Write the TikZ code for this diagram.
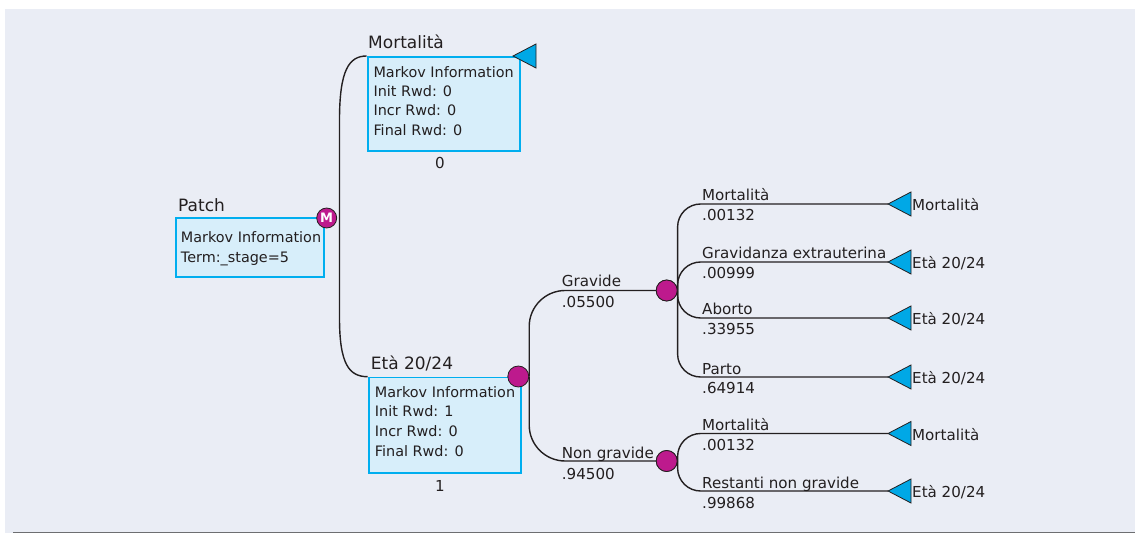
\documentclass[tikz,border=0pt]{standalone}
\usepackage{fontspec}
\setmainfont{DejaVu Sans}
\definecolor{ink}{HTML}{231F20}
\definecolor{mag}{HTML}{BD1A8D}
\definecolor{tric}{HTML}{00A8E6}
\definecolor{boxf}{HTML}{D7EEFA}
\definecolor{boxb}{HTML}{00AEEF}
\definecolor{bgc}{HTML}{EAEDF5}
\definecolor{rulec}{HTML}{6D6E71}
\begin{document}
\begin{tikzpicture}[x=1pt,y=-1pt,
  conn/.style={draw=ink,line width=1.4pt},
  mbox/.style={draw=boxb,fill=boxf,line width=1.8pt,inner sep=0,anchor=north west},
  ttl/.style={anchor=base west,font=\fontsize{17}{20}\selectfont,text=ink,inner sep=0},
  btxt/.style={anchor=base west,font=\fontsize{14.4}{17}\selectfont,text=ink,inner sep=0},
  blab/.style={anchor=base west,font=\fontsize{15.1}{18}\selectfont,text=ink,inner sep=0},
  chance/.style={circle,fill=mag,draw=ink,line width=0.8pt,minimum size=21pt,inner sep=0},
  trishape/.style={fill=tric,draw=ink,line width=0.8pt,line join=miter},
]
\fill[bgc] (5,9) rectangle (1135,533);
\useasboundingbox (0,0) rectangle (1135,534);
\draw[rulec,line width=1.8pt] (13,532.5) -- (1135,532.5);

% boxes
\node[mbox,minimum width=148pt,minimum height=59pt] (patchbox) at (175,217.3) {};
\node[mbox,minimum width=152pt,minimum height=94pt] (mortbox) at (366.7,56) {};
\node[mbox,minimum width=152pt,minimum height=95pt] (etabox) at (367.7,376.7) {};

% titles
\node[ttl] (tpatch) at (178,211.7) {Patch};
\node[ttl] (tmort) at (368,48.3) {Mortalità};
\node[ttl] (teta) at (370.7,370) {Età 20/24};

% box texts
\node[btxt] (p1) at (180.7,242.3) {Markov Information};
\node[btxt] (p2) at (180.7,262.3) {Term:\_stage=5};
\node[btxt] (m1) at (373.3,77.3) {Markov Information};
\node[btxt] (m2) at (373.3,96.7) {Init Rwd: 0};
\node[btxt] (m3) at (373.3,116) {Incr Rwd: 0};
\node[btxt] (m4) at (373.3,135.5) {Final Rwd: 0};
\node[btxt] (e1) at (374.7,397.7) {Markov Information};
\node[btxt] (e2) at (374.7,417) {Init Rwd: 1};
\node[btxt] (e3) at (374.7,436.5) {Incr Rwd: 0};
\node[btxt] (e4) at (374.7,456) {Final Rwd: 0};
\node[blab,anchor=base] (v0) at (440,168.3) {0};
\node[blab,anchor=base] (v1) at (440,491.7) {1};

% chance / markov nodes
\node[chance,minimum size=20pt,text=white,font=\bfseries\fontsize{13}{13}\selectfont] (mnode) at (326.7,218) {M};
\node[chance] (etac) at (518.3,376.5) {};
\node[chance] (gravc) at (666.7,290.5) {};
\node[chance] (ngc) at (666.7,461) {};

% terminal triangles
\coordinate (ttop) at (513,56);
\coordinate (t1) at (888,204);
\coordinate (t2) at (888,262);
\coordinate (t3) at (888,318);
\coordinate (t4) at (888,377);
\coordinate (t5) at (888,433.5);
\coordinate (t6) at (888,491);

% connectors
\draw[conn] (mortbox.north west) .. controls (349,56) and (339.5,70) .. (339.5,120) -- (339.5,318) .. controls (339.5,364) and (349,376.7) .. (etabox.north west);
\draw[conn,rounded corners=36pt] (etac.east) |- (gravc.west);
\draw[conn,rounded corners=36pt] (etac.east) |- (ngc.west);
\foreach \t in {t1,t2,t3,t4} \draw[conn,rounded corners=23pt] (gravc.east) |- (\t);
\foreach \t in {t5,t6} \draw[conn,rounded corners=23pt] (ngc.east) |- (\t);

\foreach \t in {ttop,t1,t2,t3,t4,t5,t6}
  \draw[trishape] (\t) -- ++(23,-12) -- ++(0,24) -- cycle;
\node[chance] at (gravc) {};
\node[chance] at (ngc) {};

% branch labels
\node[blab] (lgrav) at (561.7,287) {Gravide};
\node[blab] (pgrav) at (561.7,308) {.05500};
\node[blab] (lng) at (561.7,458) {Non gravide};
\node[blab] (png) at (561.7,479) {.94500};

\node[blab] (l1) at (702,201) {Mortalità};
\node[blab] (q1) at (702,221) {.00132};
\node[blab] (l2) at (702,259) {Gravidanza extrauterina};
\node[blab] (q2) at (702,279) {.00999};
\node[blab] (l3) at (702,315) {Aborto};
\node[blab] (q3) at (702,335) {.33955};
\node[blab] (l4) at (702,374) {Parto};
\node[blab] (q4) at (702,394) {.64914};
\node[blab] (l5) at (702,430.5) {Mortalità};
\node[blab] (q5) at (702,450.5) {.00132};
\node[blab] (l6) at (702,488) {Restanti non gravide};
\node[blab] (q6) at (702,508) {.99868};

% terminal labels
\node[blab] (r1) at (912,210.5) {Mortalità};
\node[blab] (r2) at (912,268.5) {Età 20/24};
\node[blab] (r3) at (912,324.5) {Età 20/24};
\node[blab] (r4) at (912,383.5) {Età 20/24};
\node[blab] (r5) at (912,440) {Mortalità};
\node[blab] (r6) at (912,497.5) {Età 20/24};
\end{tikzpicture}
\end{document}
